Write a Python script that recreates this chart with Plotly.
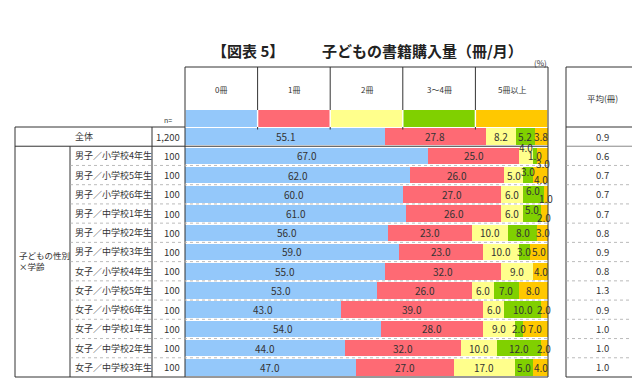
import plotly.graph_objects as go

W, H = 640, 384

categories = ["全体",
              "男子／小学校4年生", "男子／小学校5年生", "男子／小学校6年生",
              "男子／中学校1年生", "男子／中学校2年生", "男子／中学校3年生",
              "女子／小学校4年生", "女子／小学校5年生", "女子／小学校6年生",
              "女子／中学校1年生", "女子／中学校2年生", "女子／中学校3年生"]
n_values = ["1,200"] + ["100"] * 12
avg_values = ["0.9", "0.6", "0.7", "0.7", "0.7", "0.8", "0.9",
              "0.8", "1.3", "0.9", "1.0", "1.0", "1.0"]
series_names = ["0冊", "1冊", "2冊", "3～4冊", "5冊以上"]
v0 = [55.1, 67, 62, 60, 61, 56, 59, 55, 53, 43, 54, 44, 47]
v1 = [27.8, 25, 26, 27, 26, 23, 23, 32, 26, 39, 28, 32, 27]
v2 = [8.2, 4, 5, 6, 6, 10, 10, 9, 6, 6, 9, 10, 17]
v3 = [5.2, 1, 3, 6, 5, 8, 3, 0, 7, 10, 2, 12, 5]
v4 = [3.8, 3, 4, 1, 2, 3, 5, 4, 8, 2, 7, 2, 4]
series_values = [v0, v1, v2, v3, v4]
colors = ["#94C8FA", "#FE6A74", "#FFFF8C", "#80D000", "#FFC800"]

FONT = "Noto Sans CJK JP"
TXT = "#333333"

def px(x):
    return x / W

def py(y):
    return 1 - y / H

X0, X1 = 177, 540
Y0, Y1 = 119, 369
UNIT_PX = (X1 - X0) / 100.0

fig = go.Figure()
for name, vals, col in zip(series_names, series_values, colors):
    fig.add_trace(go.Bar(
        y=categories, x=vals, name=name, orientation="h",
        marker=dict(color=col, line=dict(width=0)),
        textposition="none",
    ))

fig.update_layout(
    barmode="stack", bargap=0.14,
    width=W, height=H, margin=dict(l=0, r=0, t=0, b=0),
    paper_bgcolor="white", plot_bgcolor="white",
    showlegend=False,
    xaxis=dict(domain=[px(X0), px(X1)], range=[0, 100], visible=False, fixedrange=True),
    yaxis=dict(domain=[py(Y1), py(Y0)], range=[len(categories) - 0.5, -0.5],
               visible=False, type="category", fixedrange=True),
    font=dict(family=FONT, color=TXT),
)

shapes = []
DARK = "#333333"
GRAY = "#AAAAAA"

def line(x0, y0, x1, y1, color=DARK, width=1, dash="solid", yref="paper"):
    shapes.append(dict(type="line", xref="paper", yref=yref,
                       x0=x0, y0=y0, x1=x1, y1=y1,
                       line=dict(color=color, width=width, dash=dash)))

# header box with legend swatches
HT, SW = 59, 102
col_w = (X1 - X0) / len(series_names)
for i, (name, col) in enumerate(zip(series_names, colors)):
    xa = X0 + i * col_w
    shapes.append(dict(type="rect", xref="paper", yref="paper",
                       x0=px(xa + 0.7), x1=px(xa + col_w - 0.7), y0=py(SW), y1=py(Y0),
                       fillcolor=col, line=dict(width=0)))
    if i > 0:
        line(px(xa), py(HT), px(xa), py(SW))
        line(px(xa), py(Y0), px(xa), py(Y0 + 2.5))
line(px(X0), py(HT), px(X1), py(HT))
line(px(X0), py(HT), px(X0), py(Y1))
line(px(X1), py(HT), px(X1), py(Y1))

# left table
LX, C1, C2 = 7, 62, 144
nrows = len(categories)
line(px(LX), py(Y0), px(X0), py(Y0))
line(px(LX), py(Y0), px(LX), py(Y1))
line(px(C2), py(Y0), px(C2), py(Y1))
line(px(C1), 0.5, px(C1), nrows - 0.5, yref="y")
line(px(LX), py(Y1), px(X1), py(Y1))
line(px(LX), 0.5, px(X1), 0.5, yref="y")
for i in range(1, nrows - 1):
    line(px(C1), i + 0.5, px(X1), i + 0.5, color=GRAY, width=0.8, dash="dot", yref="y")

# right table
RX0, RX1 = 558, 631
shapes.append(dict(type="rect", xref="paper", yref="paper",
                   x0=px(RX0), x1=px(RX1), y0=py(HT), y1=py(Y1),
                   line=dict(color=DARK, width=1)))
line(px(RX0), py(Y0), px(RX1), py(Y0))
line(px(RX0), 0.5, px(RX1), 0.5, color="#888888", yref="y")
for i in range(1, nrows - 1):
    line(px(RX0), i + 0.5, px(RX1), i + 0.5, color=GRAY, width=0.8, dash="dot", yref="y")

# faint bottom rule
line(0, py(380), px(632), py(380), color="#E6E6E6", width=1)

fig.update_layout(shapes=shapes)

ann = []
def text(x, y, s, size=9, xanchor="center", yref="paper", bold=False, color=TXT):
    ann.append(dict(x=x, y=y, xref="paper", yref=yref, text=f"<b>{s}</b>" if bold else s,
                    showarrow=False, xanchor=xanchor, yanchor="middle",
                    font=dict(family=FONT, size=size, color=color)))

text(px(240), py(43), "【図表 5】", size=15, bold=True, color="#222222")
text(px(414), py(43), "子どもの書籍購入量（冊/月）", size=15, bold=True, color="#222222")
text(px(532), py(54), "(%)", size=8)
for i, name in enumerate(series_names):
    text(px(X0 + (i + 0.5) * col_w), py(81), name, size=8)
text(px((RX0 + RX1) / 2), py(90), "平均(冊)", size=8.5)
text(px(160), py(112), "n=", size=7)

for i, (cat, n, a) in enumerate(zip(categories, n_values, avg_values)):
    if i == 0:
        text(px((LX + C2) / 2), cat, cat, size=9, yref="y")
    else:
        text(px(65), cat, cat, size=9, xanchor="left", yref="y")
    text(px(174), cat, n, size=9.5, xanchor="right", yref="y")
    text(px((RX0 + RX1) / 2), cat, a, size=9.5, yref="y")

ann.append(dict(x=px(9), y=py(252), xref="paper", yref="paper",
                text="子どもの性別<br>×学齢", showarrow=False, xanchor="left", yanchor="middle",
                align="left", font=dict(family=FONT, size=8.5, color=TXT)))

# value labels on segments; runs of crowded labels are staggered vertically
MIN_GAP = 14.0 / UNIT_PX
for r, cat in enumerate(categories):
    cum = 0.0
    centers = []
    for vals in series_values:
        v = vals[r]
        if v > 0:
            centers.append((cum + v / 2.0, v))
        cum += v
    groups = [[centers[0]]]
    for c in centers[1:]:
        if c[0] - groups[-1][-1][0] < MIN_GAP:
            groups[-1].append(c)
        else:
            groups.append([c])
    for g in groups:
        L = len(g)
        start = 4 * (L - 1)
        for j, (xc, v) in enumerate(g):
            sh = start - 8 * j if L > 1 else 0
            ann.append(dict(x=xc, y=cat, xref="x", yref="y", text=f"{v:.1f}",
                            showarrow=False, xanchor="center", yanchor="middle", yshift=sh,
                            font=dict(family=FONT, size=10, color=TXT)))

fig.update_layout(annotations=ann)
fig.write_html("out.html")
